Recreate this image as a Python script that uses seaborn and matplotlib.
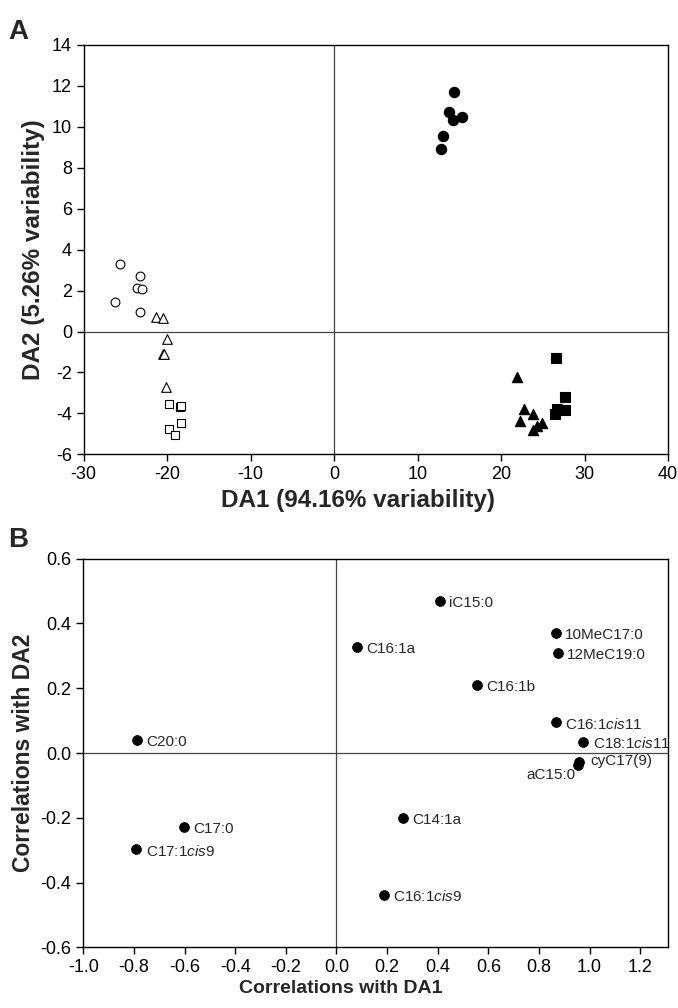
import matplotlib
matplotlib.use("Agg")
import matplotlib.pyplot as plt
import seaborn as sns
import pandas as pd

# Panel A: discriminant scores per group
open_circle_x = [-25.6, -23.3, -23.6, -23.0, -26.3, -23.3]
open_circle_y = [3.30, 2.73, 2.14, 2.08, 1.46, 0.93]
open_tri_x = [-21.3, -20.5, -20.0, -20.5, -20.35, -20.2]
open_tri_y = [0.73, 0.68, -0.38, -1.08, -1.09, -2.71]
open_sq_x = [-19.8, -18.5, -18.4, -18.4, -19.8, -19.1]
open_sq_y = [-3.54, -3.67, -3.65, -4.47, -4.77, -5.04]
fill_circle_x = [14.35, 13.7, 14.27, 15.27, 13.1, 12.83]
fill_circle_y = [11.70, 10.71, 10.32, 10.50, 9.54, 8.92]
fill_tri_x = [21.9, 22.8, 23.8, 22.3, 24.9, 24.3, 23.8]
fill_tri_y = [-2.20, -3.80, -4.04, -4.37, -4.48, -4.61, -4.81]
fill_sq_x = [26.6, 27.6, 26.7, 27.6, 26.5]
fill_sq_y = [-1.30, -3.19, -3.80, -3.84, -4.04]

# Panel B: correlations of fatty acids with DA1 / DA2
fa_names = ["iC15:0", "10MeC17:0", "12MeC19:0", "C16:1a", "C16:1b",
            r"C16:1$\mathit{cis}$11", r"C18:1$\mathit{cis}$11", "cyC17(9)", "aC15:0",
            "C14:1a", "C20:0", "C17:0", r"C17:1$\mathit{cis}$9", r"C16:1$\mathit{cis}$9"]
fa_da1 = [0.41, 0.868, 0.876, 0.081, 0.556, 0.869, 0.976, 0.957, 0.953,
          0.264, -0.789, -0.603, -0.79, 0.186]
fa_da2 = [0.469, 0.371, 0.309, 0.328, 0.21, 0.096, 0.035, -0.028, -0.038,
          -0.20, 0.039, -0.228, -0.297, -0.438]

sns.set_style("ticks")
plt.rcParams["font.family"] = ["Liberation Sans", "DejaVu Sans"]
plt.rcParams["mathtext.fontset"] = "custom"
plt.rcParams["mathtext.rm"] = "Liberation Sans"
plt.rcParams["mathtext.it"] = "Liberation Sans:italic"
plt.rcParams["axes.unicode_minus"] = False

fig = plt.figure(figsize=(6.78, 10.08), dpi=100)
axA = fig.add_axes([0.1235, 0.5493, 0.8618, 0.4061])
axB = fig.add_axes([0.1229, 0.0602, 0.8624, 0.3855])

groups = [
    (open_circle_x, open_circle_y, "o", "white", 40),
    (open_tri_x, open_tri_y, "^", "white", 48),
    (open_sq_x, open_sq_y, "s", "white", 36),
    (fill_circle_x, fill_circle_y, "o", "black", 55),
    (fill_tri_x, fill_tri_y, "^", "black", 55),
    (fill_sq_x, fill_sq_y, "s", "black", 42),
]
for gx, gy, mk, fc, sz in groups:
    sns.scatterplot(x=gx, y=gy, ax=axA, marker=mk, color=fc, edgecolor="black",
                    linewidth=0.8, s=sz, zorder=3)

for ax in (axA, axB):
    ax.axhline(0, color="#444444", lw=0.9, zorder=1)
    ax.axvline(0, color="#444444", lw=0.9, zorder=1)
    for sp in ax.spines.values():
        sp.set_linewidth(1.0)
        sp.set_color("black")
        sp.set_visible(True)
    ax.tick_params(axis="both", direction="out", length=5, width=1, labelsize=13,
                   top=False, right=False, colors="black")

axA.set_xlim(-30, 40)
axA.set_ylim(-6, 14)
axA.set_xticks(range(-30, 41, 10))
axA.set_yticks(range(-6, 15, 2))
axA.set_xlabel("DA1 (94.16% variability)", fontsize=17.5, fontweight="bold")
axA.set_ylabel("DA2 (5.26% variability)", fontsize=17.5, fontweight="bold", labelpad=5)
axA.xaxis.set_label_coords(0.47, -0.085)

dfB = pd.DataFrame({"name": fa_names, "da1": fa_da1, "da2": fa_da2})
sns.scatterplot(data=dfB, x="da1", y="da2", ax=axB, color="black", edgecolor="black",
                s=50, zorder=3)
for name, x, y in zip(fa_names, fa_da1, fa_da2):
    if name == "cyC17(9)":
        axB.annotate(name, (x, y), xytext=(8.5, 1), textcoords="offset points",
                     fontsize=11, va="center", ha="left")
    elif name == "aC15:0":
        axB.annotate(name, (x, y), xytext=(-1.5, -7), textcoords="offset points",
                     fontsize=11, va="center", ha="right")
    else:
        axB.annotate(name, (x, y), xytext=(6.5, -1.5), textcoords="offset points",
                     fontsize=11, va="center", ha="left")

axB.set_xlim(-1.0, 1.31)
axB.set_ylim(-0.6, 0.6)
axB.set_xticks([-1.0, -0.8, -0.6, -0.4, -0.2, 0.0, 0.2, 0.4, 0.6, 0.8, 1.0, 1.2])
axB.set_xticklabels(["-1.0", "-0.8", "-0.6", "-0.4", "-0.2", "0.0", "0.2", "0.4",
                     "0.6", "0.8", "1.0", "1.2"])
axB.set_yticks([-0.6, -0.4, -0.2, 0.0, 0.2, 0.4, 0.6])
axB.set_yticklabels(["-0.6", "-0.4", "-0.2", "0.0", "0.2", "0.4", "0.6"])
axB.set_xlabel("Correlations with DA1", fontsize=14, fontweight="bold")
axB.set_ylabel("Correlations with DA2", fontsize=16.5, fontweight="bold")
axB.xaxis.set_label_coords(0.44, -0.085)

fig.text(0.012, 0.961, "A", fontsize=20, fontweight="bold")
fig.text(0.012, 0.457, "B", fontsize=20, fontweight="bold")

fig.savefig("out.png", dpi=100)
